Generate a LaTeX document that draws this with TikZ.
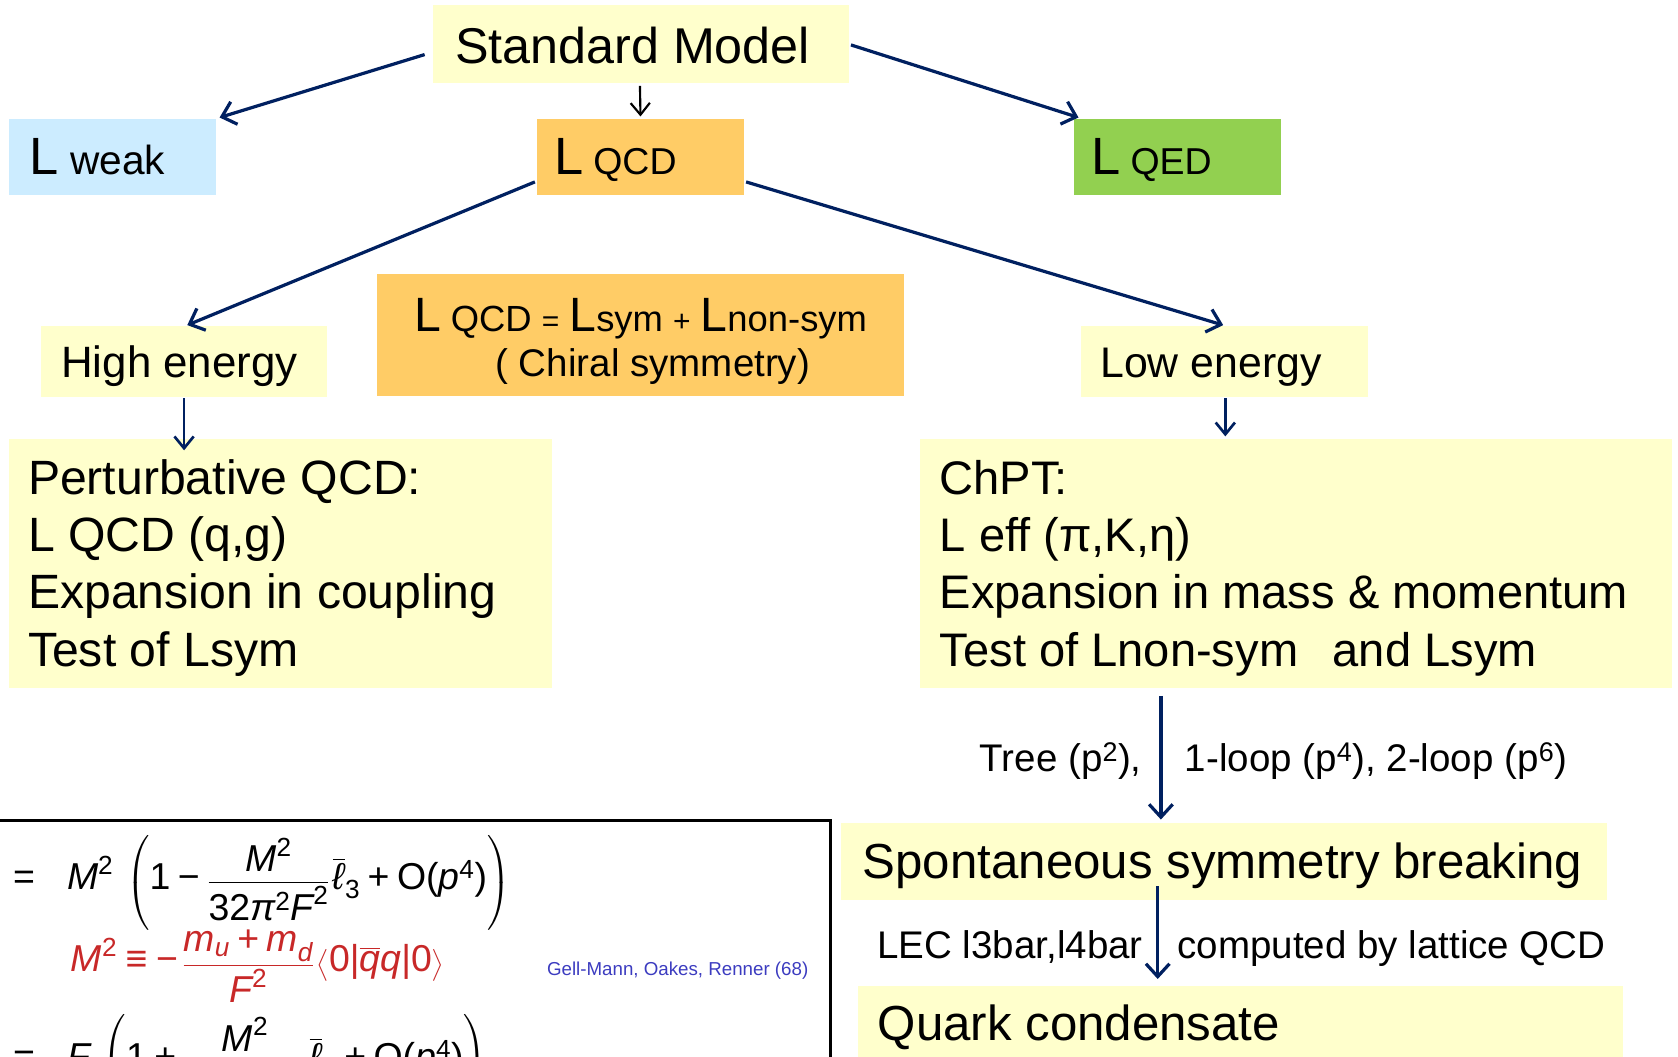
\documentclass[tikz,border=0pt]{standalone}
\usepackage{fontspec}
\usepackage{amsmath}
\setmainfont{Liberation Sans}
\usetikzlibrary{arrows.meta,calc}
\definecolor{lyel}{HTML}{FFFFCC}
\definecolor{lorg}{HTML}{FFCC66}
\definecolor{lblu}{HTML}{CCECFF}
\definecolor{lgrn}{HTML}{92D050}
\definecolor{navy}{HTML}{002060}
\definecolor{fred}{HTML}{C82828}
\definecolor{fblu}{HTML}{3C3CC0}
\newcommand{\fsz}[1]{\fontsize{#1}{#1}\selectfont}
\newcommand{\tv}[1]{\text{\normalfont #1}}
\newcommand{\ti}[1]{\text{\normalfont\itshape #1}}
\newcommand{\mbn}[1]{\hspace{7pt}\tv{#1}\hspace{7pt}}
\newcommand{\mrl}[1]{\hspace{8pt}\tv{#1}\hspace{8pt}}
\newcommand{\nst}{\rule[-5pt]{0pt}{5pt}}
\newcommand{\dst}{\rule{0pt}{31pt}}
\begin{document}
\begin{tikzpicture}[x=1pt,y=-1pt,
  bx/.style={rectangle, inner sep=0pt, draw=none},
  tx/.style={inner sep=0pt, anchor=base west, text=black},
  fm/.style={anchor=west, inner sep=0pt, font=\fontsize{35}{42}\selectfont},
  arr/.style={draw=navy, line width=3pt, -{Straight Barb[length=12pt,width=22pt]}},
  tarr/.style={draw=navy, line width=2.5pt, -{Straight Barb[length=11pt,width=18pt]}},
  lbl/.style={font=\fsz{36}, inner sep=0pt}]
\useasboundingbox (0,0) rectangle (1568,987);
\clip (0,0) rectangle (1568,987);
\fill[white] (0,0) rectangle (1568,987);

% boxes
\node[bx, fill=lyel, minimum width=388, minimum height=73] (sm) at (599,41.5) {};
\node[bx, fill=lblu, minimum width=194, minimum height=71] (lweak) at (105,146.5) {};
\node[bx, fill=lorg, minimum width=193, minimum height=71] (lqcd) at (598.5,146.5) {};
\node[bx, fill=lgrn, minimum width=193, minimum height=71] (lqed) at (1100.5,146.5) {};
\node[bx, fill=lyel, minimum width=268, minimum height=66] (he) at (172,338) {};
\node[bx, fill=lorg, minimum width=493, minimum height=114] (lsym) at (598.5,313) {};
\node[bx, fill=lyel, minimum width=268, minimum height=66] (le) at (1144,338) {};
\node[bx, fill=lyel, minimum width=508, minimum height=233] (pert) at (262,526.5) {};
\node[bx, fill=lyel, minimum width=702, minimum height=233] (chpt) at (1211,526.5) {};
\node[bx, fill=lyel, minimum width=716, minimum height=72] (ssb) at (1144,805) {};
\node[bx, fill=lyel, minimum width=715, minimum height=80] (qc) at (1159.5,961) {};

% texts
\node[tx, font=\fsz{47}] (smt) at (425,59) {Standard Model};
\node[tx] (lweakt) at (27,163) {{\fsz{49}L}\hspace{11pt}{\fsz{38}weak}};
\node[tx] (lqcdt) at (518,163) {{\fsz{49}L}\hspace{9pt}{\fsz{35}QCD}};
\node[tx] (lqedt) at (1020,163) {{\fsz{49}L}\hspace{9pt}{\fsz{35}QED}};
\node[tx, font=\fsz{41}] (het) at (57,353) {High energy};
\node[tx, font=\fsz{40}] (let) at (1028,353) {Low energy};
\node[inner sep=0pt, anchor=base, font=\fsz{34}] (lsym1) at (598.5,310)
  {{\fsz{45}L} QCD {\fsz{28}=} {\fsz{45}L}sym {\fsz{28}+} {\fsz{45}L}non-sym};
\node[inner sep=0pt, anchor=base, font=\fsz{36}] (lsym2) at (610,352) {( Chiral symmetry)};
\node[tx, font=\fontsize{45}{53.5}\selectfont] (pertt) at (26,462)
  {\begin{tabular}[t]{@{}l@{}}Perturbative QCD:\\L QCD (q,g)\\Expansion in coupling\\Test of Lsym\end{tabular}};
\node[tx, font=\fontsize{44}{53.5}\selectfont] (chptt) at (878,462)
  {\begin{tabular}[t]{@{}l@{}}ChPT:\\L eff (π,K,η)\\Expansion in mass \& momentum\\Test of Lnon-sym\hspace{20pt} and Lsym\end{tabular}};
\node[tx, font=\fsz{46}] (ssbt) at (806,821) {Spontaneous symmetry breaking};
\node[tx, font=\fsz{46}] (qct) at (820,972) {Quark condensate};

% formula box
\node[draw=black, line width=2.5pt, minimum width=786, minimum height=253, inner sep=0] (fbox) at (383,893.5) {};
\node[fm] (f1) at (12,825)
  {$\displaystyle \tv{=}\hspace{30pt}\ti{M}^{\tv{2}}\hspace{8pt}\left(\tv{1}\mbn{−}\frac{\ti{M}^{\tv{2}}\nst}{\dst\tv{32}\ti{π}^{\tv{2}}\ti{F}^{\tv{2}}}\hspace{3pt}\overline{\ti{ℓ}}_{\tv{3}}\mbn{+}\tv{O(}\ti{p}^{\tv{4}}\tv{)}\right)$};
\node[fm, text=fred] (f2) at (66,903)
  {$\displaystyle \ti{M}^{\tv{2}}\mrl{≡}\tv{−}\hspace{4pt}\frac{\ti{m}_{\ti{u}}\mbn{+}\ti{m}_{\ti{d}}\nst}{\dst\ti{F}^{\tv{2}}}\hspace{2pt}\big\langle\tv{0}\tv{|}\overline{\ti{q}}\ti{q}\tv{|}\tv{0}\big\rangle$};
\node[anchor=west, inner sep=0, text=fblu, font=\fsz{17.5}] (gmo) at (511,907) {Gell-Mann, Oakes, Renner (68)};
\node[fm] (f3) at (12,993)
  {$\displaystyle \tv{=}\hspace{30pt}\ti{F}\hspace{8pt}\left(\tv{1}\mbn{+}\frac{\ti{M}^{\tv{2}}\nst}{\dst\tv{16}\ti{π}^{\tv{2}}\ti{F}^{\tv{2}}}\hspace{3pt}\overline{\ti{ℓ}}_{\tv{4}}\mbn{+}\tv{O(}\ti{p}^{\tv{4}}\tv{)}\right)$};

% labels
\node[lbl, anchor=base east] (tree) at (1067,721) {Tree (p\textsuperscript{2}),};
\node[lbl, anchor=base west] (loops) at (1107,721) {1-loop (p\textsuperscript{4}), 2-loop (p\textsuperscript{6})};
\node[lbl, anchor=base east] (lec) at (1068,896) {LEC l3bar,l4bar};
\node[lbl, anchor=base west] (lat) at (1100,896) {computed by lattice QCD};

% connectors
\draw[arr] ($(sm.west)+(-8,9.5)$) -- ($(lweak.north east)+(3,-1)$);
\draw[tarr, draw=black, line width=2pt] ($(sm.south)+(-1,2)$) -- ($(lqcd.north)+(0,-2)$);
\draw[arr] ($(sm.east)+(2,0.5)$) -- ($(lqed.north west)+(4,-1)$);
\draw[arr] ($(lqcd.west)+(-2,23.5)$) -- ($(he.north)+(3,-1)$);
\draw[arr] ($(lqcd.east)+(2,23.5)$) -- ($(le.north)+(-1,-1)$);
\draw[tarr] ($(he.south)+(0,1)$) -- ($(he.south |- pert.north)+(0,11)$);
\draw[tarr] ($(le.south)+(1,1)$) -- ($(le.south |- chpt.north)+(1,-2)$);
\draw[arr] ($(chpt.south west)+(225,7)$) -- ($(ssb.north west)+(299,-3)$);
\draw[arr] ($(ssb.south west)+(296,-13)$) -- ($(qc.north west)+(280,-6)$);
\end{tikzpicture}
\end{document}
